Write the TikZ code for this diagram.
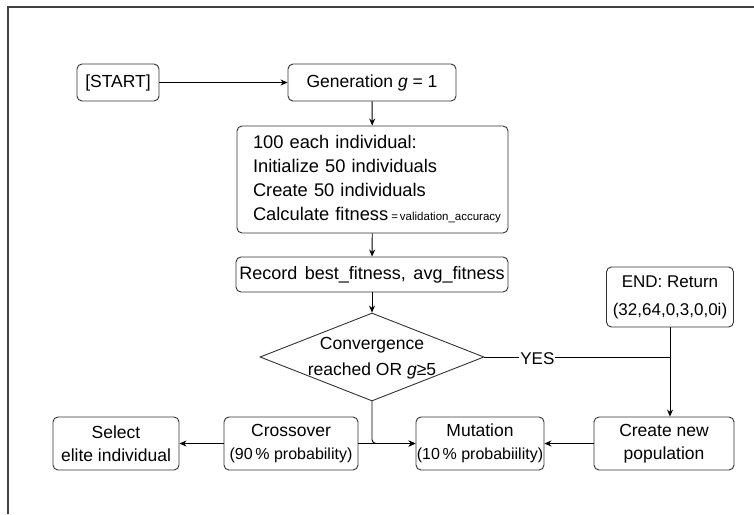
\documentclass[tikz,border=0pt]{standalone}
\usepackage{fontspec}
\setmainfont{Liberation Sans}
\usetikzlibrary{shapes.geometric,arrows.meta}
\begin{document}
\begin{tikzpicture}[x=1pt,y=-1pt,
  box/.style={draw=black!80, line width=0.9pt, rounded corners=5pt, inner sep=0pt,
    align=center, font=\fontsize{17.5}{23}\selectfont},
  conn/.style={draw=black, line width=0.9pt},
  arr/.style={conn, -{Stealth[length=7pt,width=6pt]}}
]
\useasboundingbox (0,0) rectangle (754,514);
\draw[line width=1.5pt, black!75] (8,514) -- (8,7) -- (754,7);

\node[box, minimum width=82pt, minimum height=37pt] (start) at (118,82.5) {[START]};
\node[box, minimum width=168pt, minimum height=37pt] (gen) at (372,82.5) {Generation \textit{g} = 1};
\node[box, minimum width=271pt, minimum height=107pt, text width=239pt, align=left,
  font=\fontsize{18.3}{24}\selectfont] (init) at (372.5,179.5)
  {100 each individual:\\Initialize 50 individuals\\Create 50 individuals\\\mbox{Calculate fitness{\fontsize{11.5}{12}\selectfont\hspace{3pt}=\hspace{2pt}validation\_accuracy}}};
\node[box, minimum width=272pt, minimum height=35pt, font=\fontsize{18}{23}\selectfont] (rec) at (372,274.5) {Record\hspace{2.5pt} best\_fitness,\hspace{2.5pt} avg\_fitness};
\node[draw=black!80, line width=0.9pt, diamond, minimum width=224pt, minimum height=88pt, inner sep=0pt] (dec) at (372,357) {};
\node[align=center, font=\fontsize{17.5}{26}\selectfont] (dectext) at (372,358) {Convergence\\reached OR \textit{g}≥5};
\node[box, minimum width=127pt, minimum height=60pt, font=\fontsize{17}{28}\selectfont] (end) at (670,297) {END: Return\\(32,64,0,3,0,0i)};

\node[box, minimum width=126pt, minimum height=53pt] (sel) at (116,443.5) {Select\\elite individual};
\node[box, minimum width=134pt, minimum height=53pt] (cross) at (291,443.5) {Crossover\\{\fontsize{16}{23}\selectfont(90\,\% probability)}};
\node[box, minimum width=128pt, minimum height=53pt] (mut) at (480,443.5) {Mutation\\{\fontsize{16}{23}\selectfont(10\,\% probabiility)}};
\node[box, minimum width=140pt, minimum height=53pt] (create) at (664,443.5) {Create new\\population};

\draw[arr] (start) -- (gen);
\draw[arr] (gen) -- (init);
\draw[arr] (init) -- (rec);
\draw[arr] (rec) -- (dec);
\draw[conn] (dec.east) -- node[pos=0.285, fill=white, inner sep=1pt, font=\fontsize{17}{20}\selectfont, yshift=-2pt] (yes) {YES} (end.south |- dec.east);
\draw[arr] (end.south) -- (end.south |- create.north);
\draw[arr] (create) -- (mut);
\draw[arr] (cross) -- (mut);
\draw[arr, rounded corners=4pt] (dec.south) |- (mut.west);
\draw[arr] (cross) -- (sel);
\end{tikzpicture}
\end{document}
